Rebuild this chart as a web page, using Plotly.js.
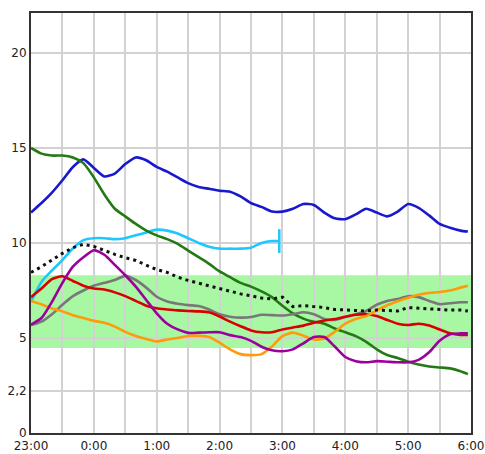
<!DOCTYPE html>
<html>
<head>
<meta charset="utf-8">
<script src="https://cdn.plot.ly/plotly-3.0.1.min.js"></script>
<style>
html,body{margin:0;padding:0;background:#fff;}
#chart{width:485px;height:454px;}
</style>
</head>
<body>
<div id="chart"></div>
<script>
// minutes after 23:00
const minutes = [0,10,20,30,40,50,60,70,80,90,100,110,120,130,140,150,160,170,180,190,200,210,220,230,240,250,260,270,280,290,300,310,320,330,340,350,360,370,380,390,400,410,417];
const cyanMinutes = [0,10,20,30,40,50,60,70,80,90,100,110,120,130,140,150,160,170,180,190,200,210,220,230,237];

const blue   = [11.6,12.1,12.65,13.3,14.0,14.4,13.95,13.5,13.65,14.15,14.5,14.35,14.0,13.75,13.45,13.15,12.95,12.85,12.75,12.7,12.45,12.1,11.9,11.65,11.65,11.8,12.05,12.0,11.6,11.3,11.25,11.5,11.8,11.6,11.4,11.65,12.05,11.85,11.45,11.0,10.8,10.65,10.6];
const green  = [15.0,14.7,14.6,14.6,14.5,14.2,13.45,12.55,11.8,11.4,11.0,10.65,10.4,10.2,9.95,9.6,9.25,8.9,8.5,8.2,7.9,7.7,7.45,7.15,6.7,6.3,6.02,5.85,5.75,5.5,5.3,5.1,4.8,4.4,4.1,3.95,3.75,3.6,3.5,3.45,3.4,3.25,3.1];
const cyan   = [6.9,7.95,8.55,9.1,9.72,10.15,10.25,10.25,10.2,10.25,10.4,10.55,10.7,10.65,10.5,10.25,10.0,9.8,9.7,9.7,9.7,9.75,10.0,10.1,10.1];
const dotted = [8.45,8.75,9.1,9.45,9.75,9.93,9.82,9.6,9.4,9.22,9.08,8.83,8.6,8.45,8.2,8.03,7.88,7.75,7.6,7.45,7.32,7.22,7.1,7.05,7.15,6.65,6.7,6.65,6.6,6.5,6.47,6.45,6.42,6.47,6.45,6.42,6.6,6.56,6.55,6.5,6.47,6.47,6.42];
const red    = [7.15,7.6,8.1,8.25,8.0,7.75,7.6,7.55,7.4,7.2,6.95,6.7,6.56,6.5,6.45,6.42,6.4,6.35,6.13,5.86,5.62,5.4,5.3,5.3,5.45,5.55,5.65,5.8,5.92,6.0,6.12,6.22,6.25,6.15,5.95,5.75,5.68,5.75,5.65,5.45,5.25,5.16,5.16];
const purple = [5.7,6.05,6.9,7.9,8.75,9.25,9.62,9.38,8.85,8.3,7.7,7.0,6.3,5.75,5.45,5.27,5.28,5.3,5.3,5.15,5.05,4.85,4.54,4.35,4.3,4.4,4.72,5.05,5.05,4.55,4.0,3.78,3.72,3.78,3.75,3.72,3.72,3.85,4.25,4.85,5.2,5.24,5.24];
const gray   = [5.68,5.86,6.25,6.75,7.2,7.5,7.75,7.9,8.05,8.27,8.05,7.65,7.17,6.92,6.8,6.73,6.68,6.5,6.25,6.12,6.07,6.1,6.22,6.2,6.18,6.25,6.35,6.25,6.0,5.95,6.1,6.25,6.42,6.75,6.95,7.05,7.2,7.15,6.95,6.78,6.83,6.88,6.88];
const orange = [6.95,6.77,6.55,6.4,6.2,6.05,5.9,5.8,5.6,5.32,5.1,4.95,4.82,4.92,5.0,5.1,5.12,5.05,4.75,4.4,4.15,4.1,4.15,4.55,5.1,5.28,5.12,4.92,4.97,5.33,5.75,6.0,6.15,6.45,6.72,6.93,7.12,7.28,7.37,7.42,7.5,7.65,7.75];

const targetLow = 4.47, targetHigh = 8.3;
const yTickVals = [0, 2.2, 5, 10, 15, 20];
const yTickText = ['0', '2,2', '5', '10', '15', '20'];

const base = Date.UTC(2024, 0, 1, 23, 0, 0);
const toX = arr => arr.map(m => base + m * 60000);
const X = toX(minutes);
const XC = toX(cyanMinutes);

function line(y, color, x, extra) {
  return Object.assign({
    x: x || X, y: y, type: 'scatter', mode: 'lines',
    line: {color: color, width: 2.6, shape: 'spline', smoothing: 0.6},
    hoverinfo: 'skip', showlegend: false
  }, extra || {});
}

const cyanColor = '#1ec8ff';
const traces = [
  line(blue, '#1818cc'),
  line(cyan, cyanColor, XC),
  {x: [XC[XC.length-1]], y: [cyan[cyan.length-1]], type: 'scatter', mode: 'markers',
   marker: {symbol: 'line-ns-open', size: 17, color: cyanColor, line: {color: cyanColor, width: 2.5}},
   hoverinfo: 'skip', showlegend: false},
  line(green, '#237a12'),
  line(gray, '#787878'),
  line(red, '#d80000'),
  line(orange, '#ff9a0a'),
  line(purple, '#9c009c'),
  {x: X, y: dotted, type: 'scatter', mode: 'lines',
   line: {color: '#111', width: 3, dash: '3px,4px'},
   hoverinfo: 'skip', showlegend: false}
];

const gridColor = '#d2d2d2';
const layout = {
  width: 485, height: 454,
  margin: {l: 31, r: 14, t: 13, b: 21, pad: 0},
  paper_bgcolor: '#fff', plot_bgcolor: '#fff',
  font: {family: 'DejaVu Sans, Verdana, sans-serif', size: 12, color: '#222'},
  showlegend: false,
  xaxis: {
    type: 'date',
    range: [base, base + 420 * 60000],
    tick0: base, dtick: 3600000,
    tickformat: '%-H:%M',
    ticklabelstandoff: 1,
    showgrid: true, gridcolor: gridColor, gridwidth: 2,
    minor: {tick0: base, dtick: 1800000, showgrid: true, gridcolor: gridColor, gridwidth: 2},
    showline: true, linecolor: '#333', linewidth: 2, mirror: true,
    ticks: '', zeroline: false, fixedrange: true
  },
  yaxis: {
    range: [0, 22.1],
    tickmode: 'array', tickvals: yTickVals, ticktext: yTickText,
    showgrid: true, gridcolor: gridColor, gridwidth: 2,
    showline: true, linecolor: '#333', linewidth: 2, mirror: true,
    ticks: '', zeroline: false, fixedrange: true
  },
  shapes: [{
    type: 'rect', xref: 'paper', yref: 'y', x0: 0, x1: 1, y0: targetLow, y1: targetHigh,
    fillcolor: '#a8f7a2', line: {width: 0}, layer: 'below'
  }]
};

Plotly.newPlot('chart', traces, layout, {displayModeBar: false, staticPlot: true});
</script>
</body>
</html>
